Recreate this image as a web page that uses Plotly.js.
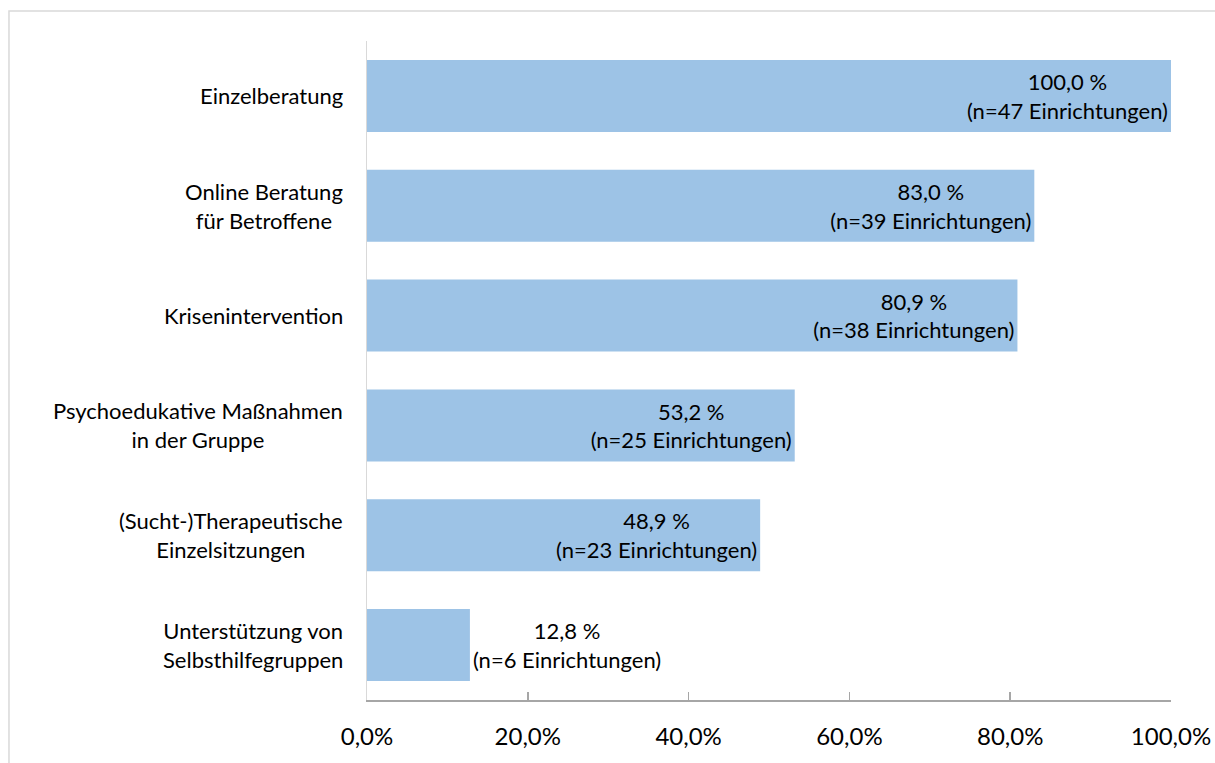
<!DOCTYPE html>
<html>
<head>
<meta charset="utf-8">
<script src="https://cdn.plot.ly/plotly-3.0.1.min.js"></script>
<style>html,body{margin:0;padding:0;background:#fff;}#chart{width:1215px;height:763px;}</style>
</head>
<body>
<div id="chart"></div>
<script>
var categories = ["Einzelberatung", "Online Beratung<br>für Betroffene", "Krisenintervention", "Psychoedukative Maßnahmen<br>in der Gruppe", "(Sucht-)Therapeutische<br>Einzelsitzungen", "Unterstützung von<br>Selbsthilfegruppen"];
var percentValues = [100.0, 83.0, 80.9, 53.2, 48.9, 12.8];
var counts = [47, 39, 38, 25, 23, 6];
var tickValues = [0, 0.2, 0.4, 0.6, 0.8, 1.0];

var FONT = "Lato, 'Open Sans', sans-serif";
var xs = percentValues.map(function(v){return v/100;});
var texts = percentValues.map(function(v,i){
  return v.toFixed(1).replace('.', ',') + ' %<br>(n=' + counts[i] + ' Einrichtungen)';
});
var ids = categories.map(function(c,i){return 'c'+i;});

var trace = {
  type: 'bar', orientation: 'h',
  x: xs, y: ids,
  marker: {color: '#9DC3E6'},
  text: texts, textposition: 'auto', insidetextanchor: 'end',
  textangle: 0, constraintext: 'none', cliponaxis: false,
  textfont: {family: FONT, size: 22, color: '#000'},
  insidetextfont: {family: FONT, size: 22, color: '#000'},
  outsidetextfont: {family: FONT, size: 22, color: '#000'},
  hoverinfo: 'none'
};

var annotations = categories.map(function(c,i){
  return {xref: 'paper', yref: 'y', x: -0.027, y: ids[i], text: c, showarrow: false,
    xanchor: 'right', yanchor: 'middle', align: 'center',
    font: {family: FONT, size: 22, color: '#000'}};
});

var layout = {
  width: 1215, height: 763,
  margin: {l: 367, r: 44, t: 41, b: 63},
  paper_bgcolor: '#fff', plot_bgcolor: '#fff',
  separators: ', ',
  showlegend: false,
  bargap: 0.345,
  xaxis: {range: [0, 1], tickvals: tickValues, tickformat: '.1%',
    showgrid: false, zeroline: false, showline: true, linecolor: '#A6A6A6', linewidth: 1.5,
    ticks: 'inside', ticklen: 8, tickcolor: '#A6A6A6', tickwidth: 1.5,
    ticklabelstandoff: 15,
    tickfont: {family: FONT, size: 24, color: '#000'}, fixedrange: true},
  yaxis: {type: 'category', categoryorder: 'array', categoryarray: ids.slice().reverse(),
    showticklabels: false, showgrid: false, zeroline: false,
    showline: true, linecolor: '#D9D9D9', linewidth: 1.5, ticks: '', fixedrange: true},
  annotations: annotations,
  shapes: [{type: 'rect', xref: 'paper', yref: 'paper', x0: -0.4453, x1: 1.07, y0: -0.11, y1: 1.0455,
    line: {color: '#D9D9D9', width: 1.5}, fillcolor: 'rgba(0,0,0,0)'}]
};

Plotly.newPlot('chart', [trace], layout, {displayModeBar: false, staticPlot: true});
</script>
</body>
</html>
